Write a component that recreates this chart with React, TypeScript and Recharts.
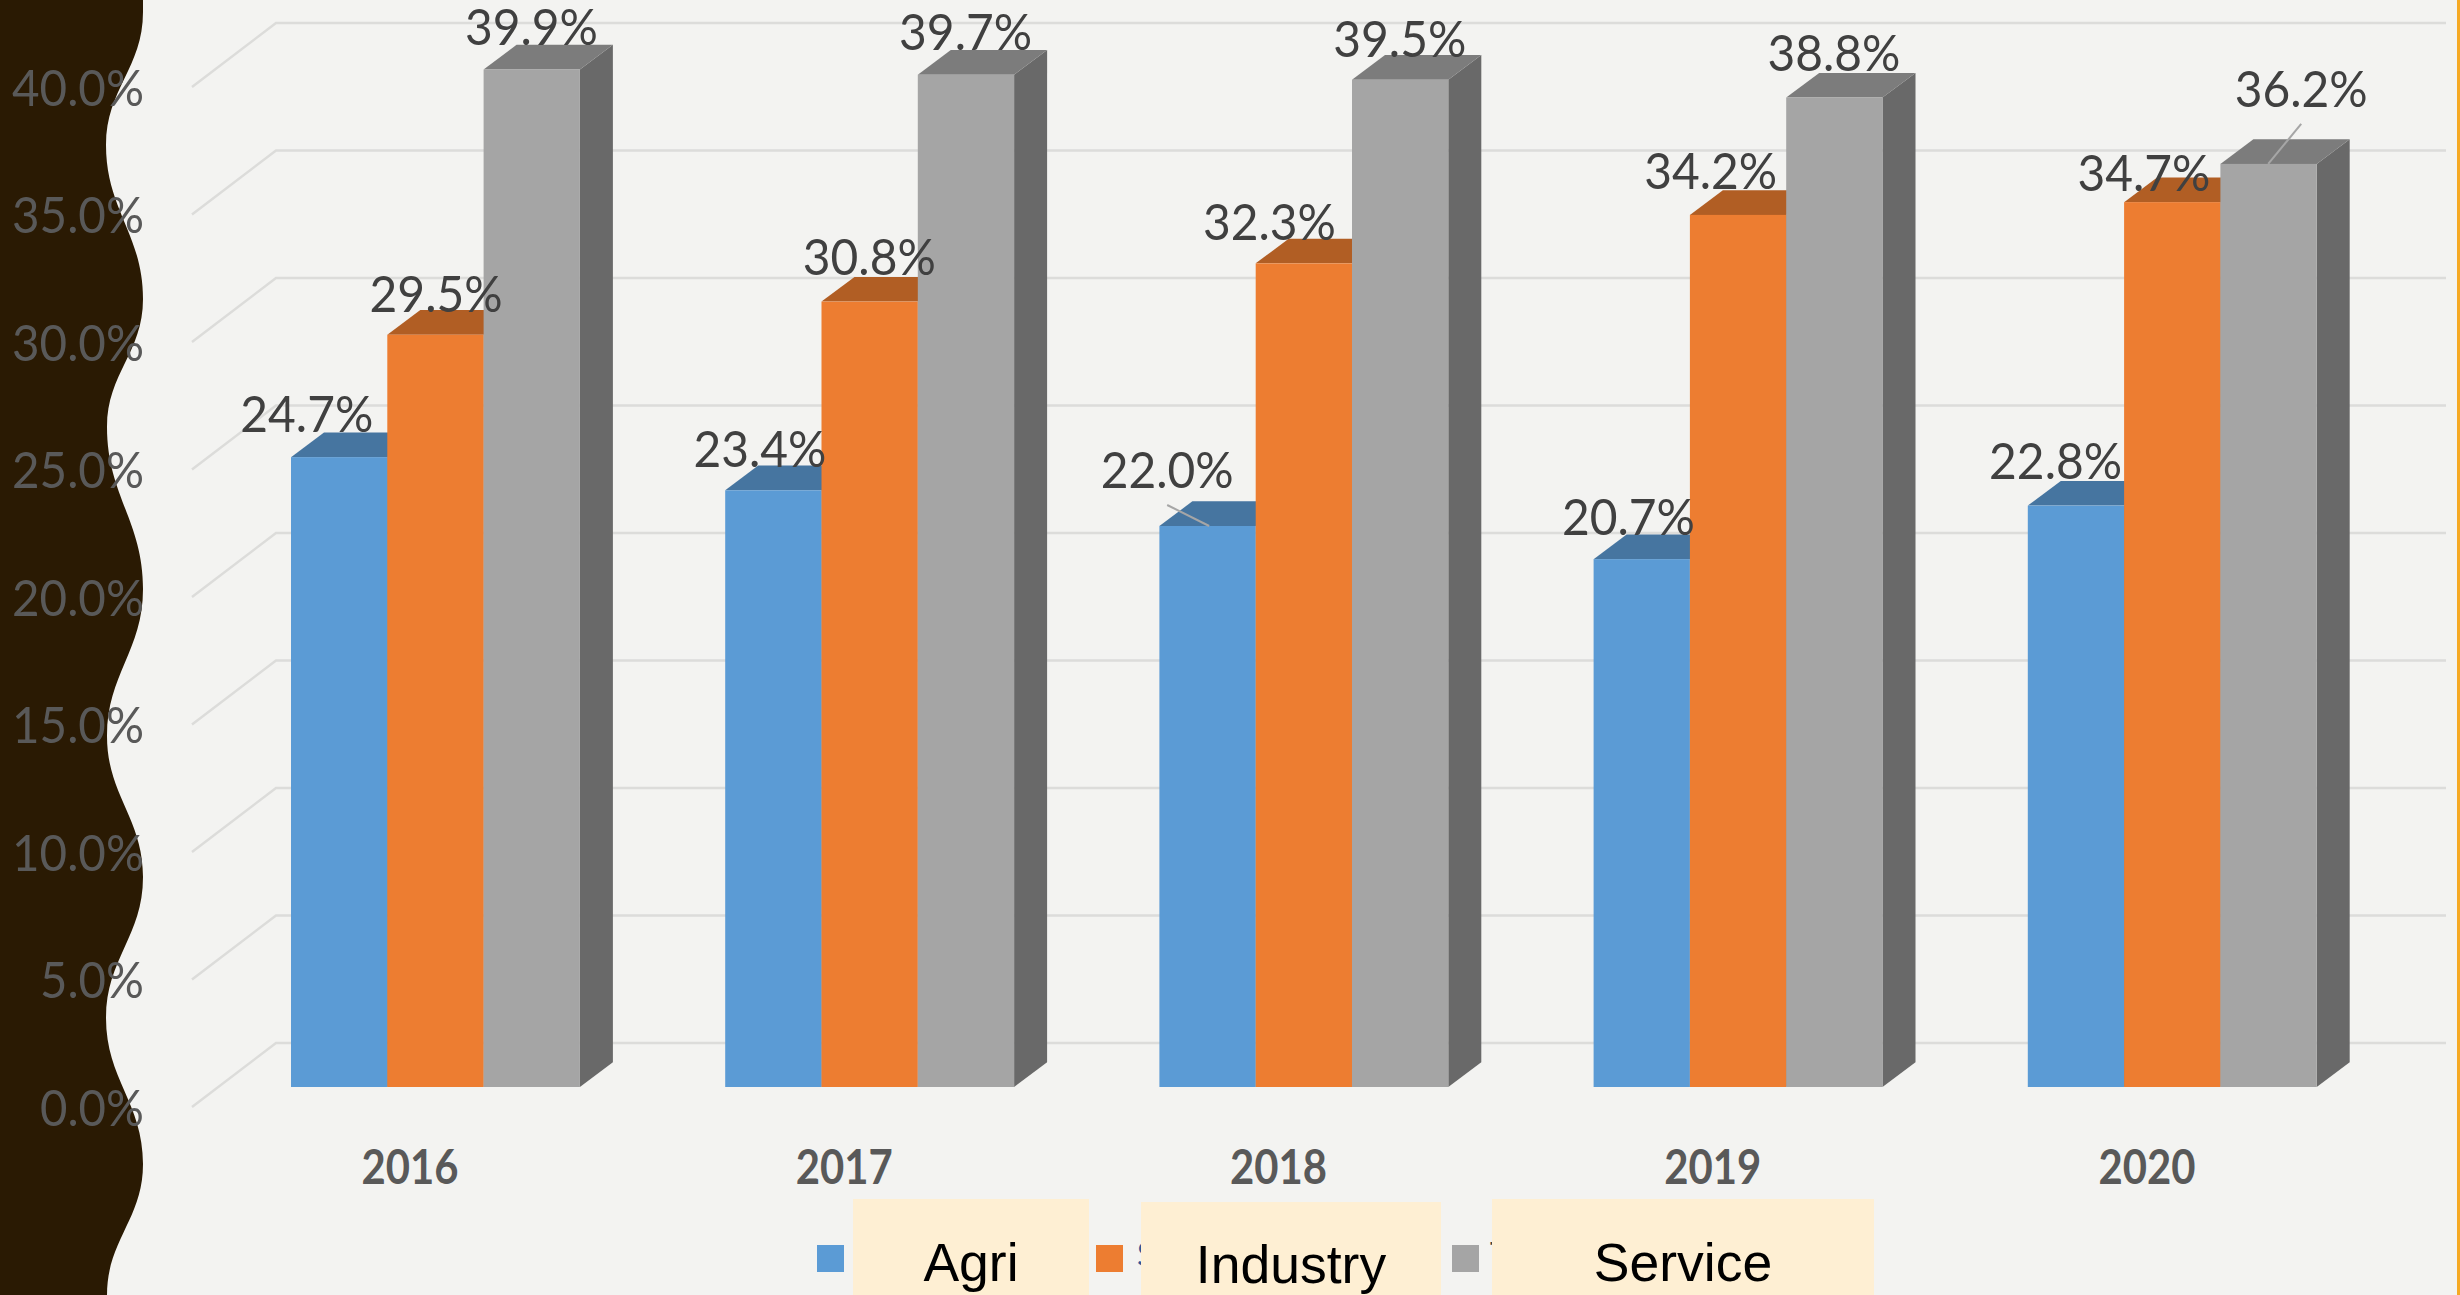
import React from 'react';
import { ComposedChart, Bar, Line, XAxis, YAxis, CartesianGrid, Legend, LabelList } from 'recharts';

const years = ['2016', '2017', '2018', '2019', '2020'];
const agri = [24.7, 23.4, 22.0, 20.7, 22.8];
const industry = [29.5, 30.8, 32.3, 34.2, 34.7];
const service = [39.9, 39.7, 39.5, 38.8, 36.2];
const yTicks = [0, 5, 10, 15, 20, 25, 30, 35, 40];
const seriesNames = ['Agri', 'Industry', 'Service'];

const rows = years.map((year, i) => ({ year, Agri: agri[i], Industry: industry[i], Service: service[i] }));

// layout
const W = 2460;
const H = 1295;
const BAR_W = 96.3;
const DX = 33;
const DY = 24.7;
const LABEL_FONT = 'Lato, sans-serif';

// hand-placed data label nudges, as the source chart has them [dx, dy] from the bar's front-top centre
const agriNudge = [[-32, -43], [-13, -41], [-40, -56], [-13, -42], [-20, -44]];
const industryNudge = [[1, -41], [0, -44], [-34, -41], [-27, -44], [-28, -29]];
const serviceNudge = [[0, -42], [0, -43], [0, -41], [0, -44], [33, -75]];

// the wavy left edge: its alternating right-most and left-most points
const edge = [[143, 12], [106, 145], [143, 299], [107, 427], [143, 589], [107, 736], [143, 877], [106, 1018], [143, 1164], [107, 1295], [143, 1430]];

function wavePath() {
  let d = `M0,-20 L${edge[0][0]},-20 L${edge[0][0]},${edge[0][1]}`;
  for (let i = 0; i < edge.length - 1; i++) {
    const a = edge[i];
    const b = edge[i + 1];
    const k = (b[1] - a[1]) * 0.42;
    d += ` C${a[0]},${a[1] + k} ${b[0]},${b[1] - k} ${b[0]},${b[1]}`;
  }
  return d + ` L0,1430 Z`;
}

const makeBar = (front: string, top: string, side: string) => (p: any) => {
  const { x, y, width, height } = p;
  const b = y + height;
  return (
    <g>
      <polygon points={`${x + width},${y} ${x + width + DX},${y - DY} ${x + width + DX},${b - DY} ${x + width},${b}`} fill={side} />
      <polygon points={`${x},${y} ${x + DX},${y - DY} ${x + width + DX},${y - DY} ${x + width},${y}`} fill={top} />
      <rect x={x} y={y} width={width} height={height} fill={front} />
    </g>
  );
};

const makeLabel = (offset: number, nudge: number[][], leader?: Record<number, number[]>) => (p: any) => {
  const { x, y, value, index } = p;
  const cx = x + offset;
  const lx = cx + nudge[index][0];
  const ly = y + nudge[index][1];
  const l = leader && leader[index];
  return (
    <g>
      {l && <line x1={lx + l[0]} y1={ly + l[1]} x2={cx + l[2]} y2={y} stroke="#A6A6A6" strokeWidth={2} />}
      <text x={lx} y={ly} dy="0.35em" textAnchor="middle" fontFamily={LABEL_FONT} fontSize={51} fill="#404040" textLength={133} lengthAdjust="spacingAndGlyphs">
        {Number(value).toFixed(1)}%
      </text>
    </g>
  );
};

const YTick = (p: any) => {
  const label = `${Number(p.payload.value).toFixed(1)}%`;
  return (
    <text x={144} y={p.y + 21} dy="0.35em" textAnchor="end" fontFamily={LABEL_FONT} fontSize={51} fill="#595959" textLength={label.length === 5 ? 132 : 104} lengthAdjust="spacingAndGlyphs">
      {label}
    </text>
  );
};

const XTick = (p: any) => (
  <text x={p.x - 25} y={1168} dy="0.35em" textAnchor="middle" fontFamily={LABEL_FONT} fontWeight={700} fontSize={47} fill="#595959" textLength={97} lengthAdjust="spacingAndGlyphs">
    {p.payload.value}
  </text>
);

const gridLine = (p: any) => {
  const { x2, y1 } = p;
  return (
    <polyline
      key={p.key ?? y1}
      points={`192,${y1 + 20} 276,${y1 - 44} ${x2 + 57},${y1 - 44}`}
      fill="none"
      stroke="#DCDCDA"
      strokeWidth={2.5}
    />
  );
};

const swatches = ['#5B9BD5', '#ED7D31', '#A5A5A5'];
const swatchX = [817, 1096, 1452];
const boxes = [
  { left: 853, right: 1089, top: 1199, cx: 971, base: 1281 },
  { left: 1141, right: 1441, top: 1202, cx: 1291, base: 1283 },
  { left: 1492, right: 1874, top: 1199, cx: 1683, base: 1281 },
];

const LegendBlock = () => (
  <svg width={W} height={H} style={{ position: 'absolute', left: 0, top: 0, overflow: 'visible', pointerEvents: 'none' }}>
    {seriesNames.map((name, i) => (
      <rect key={name} x={swatchX[i]} y={1245} width={27} height={27} fill={swatches[i]} />
    ))}
    <text x={1137} y={1266} fontFamily={LABEL_FONT} fontSize={32} fill="#2F5597">S</text>
    <text x={1490} y={1266} fontFamily={LABEL_FONT} fontSize={32} fill="#404040">T</text>
    {seriesNames.map((name, i) => (
      <g key={name}>
        <rect x={boxes[i].left} y={boxes[i].top} width={boxes[i].right - boxes[i].left} height={H - boxes[i].top} fill="#FEEFD3" />
        <text x={boxes[i].cx} y={boxes[i].base} textAnchor="middle" fontFamily="Liberation Sans, Arial, sans-serif" fontSize={53.5} fill="#000000">{name}</text>
      </g>
    ))}
  </svg>
);

export default function App() {
  return (
    <div style={{ position: 'absolute', left: 0, top: 0, width: W, height: H, background: '#F3F3F1', overflow: 'hidden' }}>
      <svg width={W} height={H} style={{ position: 'absolute', left: 0, top: 0 }}>
        <path d={wavePath()} fill="#2A1A03" />
        <rect x={2457} y={0} width={3} height={H} fill="#F5A923" />
      </svg>
      <div style={{ position: 'absolute', left: 0, top: 0 }}>
        <ComposedChart
          width={W}
          height={H}
          data={rows}
          barSize={BAR_W}
          barGap={0}
          margin={{ top: 67, right: 71, bottom: 108, left: 0 }}
        >
          <CartesianGrid vertical={false} horizontal={gridLine} />
          <XAxis dataKey="year" height={100} axisLine={false} tickLine={false} tick={XTick} />
          <YAxis width={218} domain={[0, 40]} ticks={yTicks} axisLine={false} tickLine={false} tick={YTick} interval={0} />
          <Bar dataKey="Agri" isAnimationActive={false} shape={makeBar('#5B9BD5', '#4675A0', '#44749F')} />
          <Bar dataKey="Industry" isAnimationActive={false} shape={makeBar('#ED7D31', '#B15E24', '#B15E24')} />
          <Bar dataKey="Service" isAnimationActive={false} shape={makeBar('#A5A5A5', '#7C7C7C', '#696969')} />
          <Line dataKey="Agri" stroke="none" dot={false} activeDot={false} legendType="none" isAnimationActive={false}>
            <LabelList dataKey="Agri" content={makeLabel(-BAR_W, agriNudge, { 2: [0, 35, 2, 0] })} />
          </Line>
          <Line dataKey="Industry" stroke="none" dot={false} activeDot={false} legendType="none" isAnimationActive={false}>
            <LabelList dataKey="Industry" content={makeLabel(0, industryNudge)} />
          </Line>
          <Line dataKey="Service" stroke="none" dot={false} activeDot={false} legendType="none" isAnimationActive={false}>
            <LabelList dataKey="Service" content={makeLabel(BAR_W, serviceNudge, { 4: [0, 35, 0, 0] })} />
          </Line>
          <Legend
            content={<LegendBlock />}
            wrapperStyle={{ position: 'absolute', left: 0, top: 0, bottom: 'auto', width: 0, height: 0 }}
          />
        </ComposedChart>
      </div>
    </div>
  );
}
